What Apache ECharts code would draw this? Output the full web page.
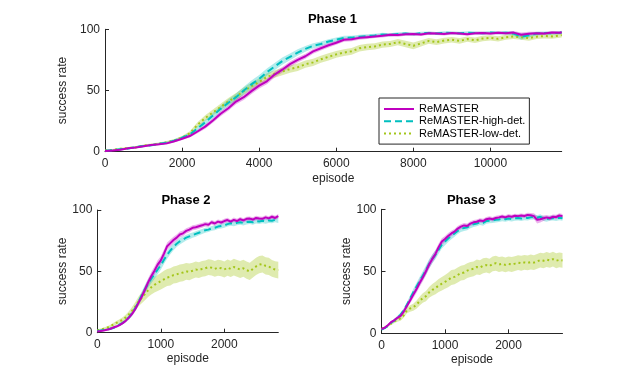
<!DOCTYPE html>
<html>
<head>
<meta charset="utf-8">
<title>ReMASTER success rate</title>
<script src="https://cdn.jsdelivr.net/npm/echarts@6/dist/echarts.min.js"></script>
<style>
  html, body { margin: 0; padding: 0; background: #fff; }
  #chart { width: 623px; height: 373px; }
</style>
</head>
<body>
<div id="chart"></div>
<script>
// ---- data ----
const methodNames = ['ReMASTER', 'ReMASTER-high-det.', 'ReMASTER-low-det.'];
const phaseTitles = ['Phase 1', 'Phase 2', 'Phase 3'];

// phase 1: every 200 episodes, last point at 11850
const p1Step = 200, p1Last = 11850;
const p1ReMASTER = [0.5, 1.0, 1.6, 2.8, 3.5, 4.4, 5.4, 6.0, 6.8, 8.6,
  10.6, 12.8, 16.5, 20.5, 25.5, 31, 35.5, 41, 44.5, 49.5,
  54, 57.5, 63, 67, 71.5, 75, 78, 82, 84.5, 87,
  89, 91.5, 91.8, 93, 93.6, 94.2, 94.8, 95.5, 95.3, 96,
  96.2, 95.8, 96.8, 96.5, 96.2, 96.9, 96.6, 96, 96.8, 97,
  96.5, 97.2, 96.8, 97.3, 95.5, 96.4, 96.8, 96.5, 97.4, 97.2,
  97.6];
const p1High = [0.8, 1.2, 2.0, 2.6, 3.8, 4.6, 5.2, 6.4, 7.4, 9.0,
  11.4, 14, 19, 24, 29.5, 35, 40, 44.5, 50, 55,
  59.5, 65, 69.5, 74, 77.5, 81, 84, 86.5, 88, 90,
  91.5, 93, 93.2, 94, 94.5, 95, 95.8, 95.5, 96.2, 96.5,
  96, 96.8, 97, 96.6, 97.2, 97, 96.7, 97.3, 97, 96.8,
  97.4, 97, 97.2, 96.5, 94, 95.2, 96.5, 97, 96.8, 97.2,
  97.4];
const p1Low = [1.0, 1.5, 2.4, 3.0, 3.6, 5.0, 5.6, 6.5, 7.6, 9.2,
  11.5, 15, 22, 27.5, 32, 36.5, 41, 45, 49.5, 53.5,
  57, 61, 63.5, 65.5, 67.5, 69, 71.5, 73, 75.5, 77.5,
  79.5, 81, 82, 84.5, 85.5, 86, 87.5, 88, 89.5, 88,
  86.5, 88.5, 90.5, 89.5, 90.8, 91.5, 90.5, 92, 91, 92.5,
  93, 92.2, 93.5, 94.2, 93.5, 92.8, 94, 94.5, 94.2, 95,
  95.3];
// half-width of the shaded band
const p1ReMASTERBand = [0.6, 0.6, 0.6, 0.7, 0.7, 0.8, 0.8, 0.8, 0.9, 1.0,
  1.1, 1.3, 1.5, 1.7, 1.9, 2.0, 2.1, 2.2, 2.2, 2.3,
  2.3, 2.3, 2.3, 2.2, 2.2, 2.1, 2.0, 2.0, 1.9, 1.8,
  1.7, 1.6, 1.6, 1.5, 1.5, 1.4, 1.4, 1.3, 1.3, 1.3,
  1.2, 1.2, 1.2, 1.2, 1.2, 1.2, 1.2, 1.2, 1.2, 1.2,
  1.2, 1.2, 1.2, 1.3, 1.8, 1.5, 1.3, 1.2, 1.2, 1.2,
  1.2];
const p1HighBand = [0.7, 0.7, 0.7, 0.8, 0.8, 0.9, 0.9, 1.0, 1.0, 1.1,
  1.3, 1.5, 1.8, 2.1, 2.4, 2.6, 2.8, 3.0, 3.0, 3.1,
  3.1, 3.0, 3.0, 2.9, 2.8, 2.6, 2.4, 2.2, 2.0, 1.9,
  1.8, 1.7, 1.6, 1.5, 1.5, 1.4, 1.4, 1.3, 1.3, 1.3,
  1.2, 1.2, 1.2, 1.2, 1.2, 1.2, 1.2, 1.2, 1.2, 1.2,
  1.2, 1.3, 1.4, 1.8, 2.6, 2.0, 1.5, 1.3, 1.2, 1.2,
  1.2];
const p1LowBand = [0.7, 0.7, 0.8, 0.8, 0.9, 0.9, 1.0, 1.0, 1.1, 1.2,
  1.4, 1.7, 2.0, 2.3, 2.5, 2.7, 2.8, 2.9, 3.0, 3.0,
  3.0, 3.0, 3.0, 3.0, 3.0, 3.0, 3.0, 3.0, 2.9, 2.9,
  2.8, 2.8, 2.7, 2.7, 2.6, 2.6, 2.5, 2.5, 2.5, 2.6,
  2.8, 2.5, 2.4, 2.4, 2.3, 2.3, 2.3, 2.2, 2.2, 2.2,
  2.2, 2.1, 2.1, 2.1, 2.1, 2.1, 2.0, 2.0, 2.0, 2.0,
  2.0];

// phases 2 and 3: every 50 episodes, 0..2850
const p23Step = 50, p23Last = 2850;
const p2ReMASTER = [1.0, 1.3, 1.8, 2.4, 3.0, 4.2, 5.0, 6.2, 7.8, 9.8,
  12.5, 15.5, 19.5, 24.5, 29.5, 35, 41, 46, 50.5, 55.5,
  59, 64.5, 70.5, 73, 75.5, 77.5, 80, 81, 83, 84,
  85.5, 86, 86.8, 87.5, 88.5, 88, 90, 89, 90.5, 89.8,
  91, 91.8, 90.5, 92, 91, 92.5, 91.5, 92.8, 93, 92.2,
  93.5, 93, 92.8, 94, 93.2, 94.5, 93.5, 95];
const p2High = [1.5, 1.8, 2.2, 2.6, 3.2, 3.8, 5.0, 6.5, 8.0, 10,
  12.5, 16, 20, 25, 30.5, 35.5, 40, 44, 47.5, 51.5,
  55, 59.5, 63.5, 67, 70, 72.5, 74.5, 76, 77.5, 78.5,
  79.5, 80.5, 81.5, 82.5, 83.5, 84, 85, 85.5, 86.5, 87,
  87.5, 88.5, 89.2, 88.8, 89.5, 90, 89.4, 90.2, 90.5, 90,
  91, 90.6, 91.2, 90.8, 91.5, 91.2, 92, 91.5];
const p2Low = [2.0, 2.5, 3.2, 4.0, 5.0, 6.5, 8.0, 9.2, 10.5, 12.5,
  15, 18, 21.5, 25.5, 28.5, 31.5, 34.5, 37, 39, 40.5,
  42, 43.5, 45, 45.5, 47, 47.5, 48.5, 49, 50, 49.5,
  50.5, 51.5, 51, 52, 52.5, 53.5, 53, 52, 53, 52.5,
  51.5, 53, 52, 53.5, 52.5, 51.5, 52.5, 51, 50, 52,
  54, 55.5, 56, 54.5, 54, 52.5, 51.5, 51];
const p2ReMASTERBand = [0.6, 0.6, 0.7, 0.7, 0.8, 0.8, 0.9, 1.0, 1.1, 1.3,
  1.5, 1.8, 2.1, 2.4, 2.7, 3.0, 3.2, 3.4, 3.5, 3.5,
  3.4, 3.3, 3.1, 2.9, 2.7, 2.5, 2.4, 2.3, 2.2, 2.1,
  2.0, 2.0, 2.0, 1.9, 1.9, 1.9, 1.8, 1.8, 1.8, 1.8,
  1.8, 1.8, 1.8, 1.8, 1.8, 1.8, 1.8, 1.8, 1.8, 1.8,
  1.8, 1.8, 1.8, 1.8, 1.8, 1.8, 1.8, 1.8];
const p2HighBand = [0.7, 0.7, 0.8, 0.8, 0.9, 0.9, 1.0, 1.1, 1.2, 1.4,
  1.7, 2.0, 2.4, 2.7, 3.0, 3.3, 3.5, 3.7, 3.8, 3.8,
  3.7, 3.5, 3.3, 3.1, 2.9, 2.7, 2.6, 2.5, 2.4, 2.3,
  2.2, 2.2, 2.1, 2.1, 2.0, 2.0, 2.0, 2.0, 2.0, 2.0,
  2.0, 2.0, 2.0, 2.0, 2.0, 2.0, 2.0, 2.0, 2.0, 2.0,
  2.0, 2.0, 2.0, 2.0, 2.0, 2.0, 2.0, 2.0];
const p2LowBand = [0.8, 0.9, 1.0, 1.1, 1.2, 1.4, 1.6, 1.8, 2.0, 2.3,
  2.7, 3.1, 3.5, 4.0, 4.5, 5.0, 5.4, 5.8, 6.2, 6.5,
  6.7, 6.9, 7.0, 7.0, 7.0, 7.0, 7.0, 7.0, 6.8, 6.8,
  6.6, 6.6, 6.5, 6.5, 6.4, 6.4, 6.4, 6.4, 6.5, 6.5,
  6.6, 6.6, 6.7, 6.8, 6.8, 6.9, 7.0, 7.0, 7.0, 7.0,
  7.0, 7.0, 7.0, 7.0, 7.0, 6.8, 6.8, 6.8];

const p3ReMASTER = [3.5, 4.5, 6.5, 9, 10.5, 12.5, 14, 17.5, 22, 26.5,
  31, 35.5, 40.5, 45, 50, 55.5, 60, 64, 69.5, 74,
  76, 78.5, 80.5, 82, 84.5, 86, 87, 86.5, 88.5, 89.5,
  90, 91, 90.5, 92, 92.5, 92, 93, 93.5, 94.2, 93.5,
  94.5, 94, 94.8, 94.5, 95, 94.6, 95.5, 95.2, 94.5, 91.5,
  92, 92.8, 93.5, 92.8, 94, 93.8, 95, 94.5];
const p3High = [3.0, 4.2, 6.0, 8.5, 10.2, 12.8, 15, 18.5, 23, 28,
  33, 37.5, 42, 46.5, 51, 56, 60, 63.5, 67.5, 71.5,
  74, 76.5, 78.5, 80.5, 82.5, 84, 85, 85.5, 87, 88,
  88.5, 89.5, 89, 90.5, 90.8, 91, 91.5, 91.8, 92.4, 92,
  92.6, 92.2, 92.8, 93, 92.5, 93.2, 93, 93.5, 93.8, 93.2,
  94, 92.5, 92, 92.8, 93, 92.5, 93.2, 92.8];
const p3Low = [3.5, 4.5, 6.0, 7.8, 9.5, 11, 12, 14.5, 18.5, 20,
  21, 23, 26, 28.5, 30, 33, 35, 36.5, 38.5, 40,
  41.5, 43, 45, 45.5, 47, 48.5, 49, 50.5, 51.5, 52,
  53.5, 53, 54.5, 55, 54.2, 56, 56.5, 55.5, 56, 55.2,
  56, 55.5, 56.2, 57, 56.5, 57.2, 56.8, 57.5, 57, 58,
  59, 58.5, 59.5, 58.8, 59.8, 58.5, 59.2, 58.8];
const p3ReMASTERBand = [0.8, 0.8, 0.9, 1.0, 1.1, 1.3, 1.5, 1.8, 2.1, 2.4,
  2.7, 3.0, 3.2, 3.3, 3.4, 3.4, 3.3, 3.1, 2.9, 2.7,
  2.5, 2.4, 2.3, 2.2, 2.1, 2.0, 2.0, 2.0, 1.9, 1.9,
  1.8, 1.8, 1.8, 1.8, 1.8, 1.8, 1.7, 1.7, 1.7, 1.7,
  1.7, 1.7, 1.7, 1.7, 1.7, 1.7, 1.7, 1.8, 2.4, 3.0,
  2.6, 2.2, 2.0, 1.9, 1.8, 1.8, 1.8, 1.8];
const p3HighBand = [0.8, 0.8, 0.9, 1.0, 1.1, 1.3, 1.5, 1.8, 2.1, 2.5,
  2.8, 3.1, 3.4, 3.6, 3.7, 3.7, 3.6, 3.5, 3.3, 3.1,
  2.9, 2.8, 2.7, 2.6, 2.5, 2.4, 2.4, 2.3, 2.3, 2.2,
  2.2, 2.2, 2.2, 2.1, 2.1, 2.1, 2.1, 2.0, 2.0, 2.0,
  2.0, 2.0, 2.0, 2.0, 2.0, 2.0, 2.0, 2.0, 2.0, 2.0,
  2.0, 2.0, 2.0, 2.0, 2.0, 2.0, 2.0, 2.0];
const p3LowBand = [0.8, 0.9, 1.0, 1.2, 1.4, 1.6, 1.8, 2.0, 2.3, 2.6,
  2.9, 3.2, 3.5, 3.8, 4.1, 4.4, 4.7, 5.0, 5.2, 5.4,
  5.6, 5.8, 6.0, 6.0, 6.0, 6.0, 6.0, 6.0, 6.0, 6.0,
  6.0, 6.0, 6.0, 6.0, 6.0, 6.0, 6.0, 6.0, 6.0, 6.0,
  6.0, 6.0, 6.0, 6.0, 6.0, 6.0, 6.0, 6.0, 6.0, 6.0,
  6.0, 6.0, 6.0, 6.0, 6.0, 6.0, 6.0, 6.0];

// tick labels
const p1XTicks = [0, 2000, 4000, 6000, 8000, 10000];
const p23XTicks = [0, 1000, 2000];
const yTicks = [0, 50, 100];

// ---- styling ----
const FONT = "'Liberation Sans', Arial, sans-serif";
const INK = '#262626';
const lineColors = ['#BF00BF', '#00BFBF', '#A4C61A'];
const bandColors = ['rgba(191,0,191,0.3)', 'rgba(0,191,191,0.3)', 'rgba(164,198,26,0.35)'];
const lineTypes = ['solid', [7, 4], [2, 3]];

function episodes(step, last) {
  const out = [];
  for (let e = 0; e < last; e += step) out.push(e);
  out.push(last);
  return out;
}

const phases = [
  { ep: episodes(p1Step, p1Last), vals: [p1ReMASTER, p1High, p1Low], bands: [p1ReMASTERBand, p1HighBand, p1LowBand],
    grid: { left: 105, top: 29.3, width: 456.7, height: 122.4 }, xTicks: p1XTicks, xGap: 21, yGap: 28 },
  { ep: episodes(p23Step, p23Last), vals: [p2ReMASTER, p2High, p2Low], bands: [p2ReMASTERBand, p2HighBand, p2LowBand],
    grid: { left: 97.3, top: 210, width: 181, height: 122.7 }, xTicks: p23XTicks, xGap: 20, yGap: 29 },
  { ep: episodes(p23Step, p23Last), vals: [p3ReMASTER, p3High, p3Low], bands: [p3ReMASTERBand, p3HighBand, p3LowBand],
    grid: { left: 381.5, top: 209.3, width: 181, height: 124 }, xTicks: p23XTicks, xGap: 20, yGap: 28 }
];

const labelStyle = { color: INK, fontSize: 12, fontFamily: FONT };
const plain = v => String(v);

// shaded band: one polygon through upper edge, back along lower edge
function bandRender(rows, fill) {
  return function (params, api) {
    if (params.dataIndex !== 0) return null;
    const pts = [];
    rows.forEach(r => pts.push(api.coord([r[0], r[2]])));
    for (let k = rows.length - 1; k >= 0; k--) pts.push(api.coord([rows[k][0], rows[k][1]]));
    return { type: 'polygon', shape: { points: pts }, style: { fill: fill }, silent: true };
  };
}

const grids = [], xAxes = [], yAxes = [], bandSeries = [], lineSeries = [];
phases.forEach((ph, i) => {
  grids.push(ph.grid);
  xAxes.push({
    gridIndex: i, type: 'value', min: 0, max: ph.ep[ph.ep.length - 1],
    name: 'episode', nameLocation: 'middle', nameGap: ph.xGap, nameTextStyle: labelStyle,
    axisLine: { show: true, onZero: false, lineStyle: { color: INK, width: 1 } },
    axisTick: { show: true, inside: true, length: 4, lineStyle: { color: INK }, customValues: ph.xTicks },
    axisLabel: Object.assign({ margin: 6, customValues: ph.xTicks, formatter: plain }, labelStyle),
    splitLine: { show: false }
  });
  yAxes.push({
    gridIndex: i, type: 'value', min: 0, max: 100, interval: 50,
    name: 'success rate', nameLocation: 'middle', nameGap: ph.yGap, nameTextStyle: labelStyle,
    axisLine: { show: true, lineStyle: { color: INK, width: 1 } },
    axisTick: { show: true, inside: true, length: 4, lineStyle: { color: INK }, customValues: yTicks },
    axisLabel: Object.assign({ margin: 5, customValues: yTicks, formatter: plain }, labelStyle),
    splitLine: { show: false }
  });
  // draw order: low-det, high-det, ReMASTER on top
  [2, 1, 0].forEach(m => {
    const v = ph.vals[m], b = ph.bands[m];
    const rows = ph.ep.map((e, k) => [e, v[k] - b[k], v[k] + b[k]]);
    bandSeries.push({
      type: 'custom', xAxisIndex: i, yAxisIndex: i, silent: true, z: 1,
      encode: { x: 0, y: [1, 2] },
      renderItem: bandRender(rows, bandColors[m]),
      data: rows
    });
    lineSeries.push({
      name: methodNames[m], type: 'line', xAxisIndex: i, yAxisIndex: i,
      symbol: 'none', z: 3,
      lineStyle: { color: lineColors[m], width: 2, type: lineTypes[m] },
      itemStyle: { color: lineColors[m] },
      data: ph.ep.map((e, k) => [e, v[k]])
    });
  });
});

const titlePos = [[332.5, 19.5], [186, 200], [471.5, 200]];

const chart = echarts.init(document.getElementById('chart'));
chart.setOption({
  animation: false,
  backgroundColor: '#fff',
  grid: grids,
  xAxis: xAxes,
  yAxis: yAxes,
  legend: {
    data: methodNames,
    orient: 'vertical', left: 379, top: 98,
    padding: [5.5, 4, 5, 4],
    itemWidth: 30, itemHeight: 10, itemGap: 1.3, itemTextGap: 4,
    itemStyle: { opacity: 0 },
    backgroundColor: '#fff', borderColor: INK, borderWidth: 1, borderRadius: 0,
    textStyle: { color: '#000', fontSize: 11, fontFamily: FONT, lineHeight: 10 }
  },
  graphic: phaseTitles.map((t, i) => ({
    type: 'text', x: titlePos[i][0], y: titlePos[i][1],
    style: { text: t, fill: '#000', font: 'bold 13px ' + FONT, align: 'center', verticalAlign: 'middle' }
  })),
  series: bandSeries.concat(lineSeries)
});
</script>
</body>
</html>
